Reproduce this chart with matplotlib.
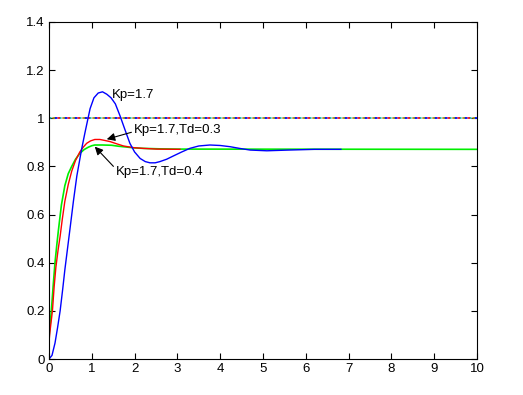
import matplotlib
matplotlib.use("Agg")
import matplotlib.pyplot as plt
import numpy as np

plt.rcParams['font.family'] = ['Liberation Sans', 'DejaVu Sans']

# Kp=1.7 (blue)
t_blue = [0, 0.07, 0.14, 0.20, 0.26, 0.32, 0.37, 0.43, 0.49, 0.57, 0.65, 0.76, 0.84, 0.96, 1.05,
          1.15, 1.25, 1.35, 1.45, 1.55, 1.66, 1.78, 1.89, 2.0, 2.13, 2.25, 2.36, 2.48, 2.59, 2.75,
          2.9, 3.1, 3.29, 3.5, 3.76, 4.0, 4.23, 4.45, 4.7, 5.09, 5.6, 6.2, 6.82]
y_blue = [0, 0.015, 0.066, 0.13, 0.20, 0.29, 0.37, 0.455, 0.54, 0.655, 0.76, 0.87, 0.94, 1.04, 1.085,
          1.105, 1.11, 1.10, 1.085, 1.06, 1.01, 0.95, 0.896, 0.86, 0.833, 0.82, 0.815, 0.815, 0.82, 0.83,
          0.843, 0.86, 0.875, 0.885, 0.889, 0.887, 0.882, 0.875, 0.868, 0.865, 0.868, 0.871, 0.871]
# Kp=1.7, Td=0.3 (red)
t_red = [0, 0.02, 0.08, 0.12, 0.16, 0.21, 0.26, 0.31, 0.37, 0.45, 0.53, 0.62, 0.72, 0.80, 0.88,
         0.97, 1.07, 1.19, 1.30, 1.43, 1.58, 1.74, 1.97, 2.2, 2.52, 3.06]
y_red = [0.07, 0.11, 0.20, 0.30, 0.38, 0.45, 0.51, 0.58, 0.655, 0.725, 0.78, 0.825, 0.86, 0.88, 0.896,
         0.906, 0.912, 0.912, 0.908, 0.903, 0.894, 0.885, 0.878, 0.875, 0.872, 0.871]
# Kp=1.7, Td=0.4 (green)
t_green = [0, 0, 0.03, 0.063, 0.10, 0.14, 0.18, 0.22, 0.29, 0.37, 0.45, 0.53, 0.62, 0.72, 0.82,
           0.92, 1.0, 1.07, 1.25, 1.46, 1.62, 1.78, 2.0, 2.2, 2.6, 3.0, 10.0]
y_green = [0, 0.09, 0.15, 0.22, 0.31, 0.40, 0.47, 0.535, 0.64, 0.72, 0.77, 0.80, 0.83, 0.854, 0.87,
           0.88, 0.886, 0.889, 0.889, 0.888, 0.884, 0.881, 0.877, 0.875, 0.873, 0.872, 0.871]
# reference step
t_ref = [0, 10]
y_ref = [1, 1]

labels = ["Kp=1.7", "Kp=1.7,Td=0.3", "Kp=1.7,Td=0.4"]

fig = plt.figure(figsize=(5.23, 3.95), dpi=100)
ax = fig.add_axes([49/523, 1-359/395, (477-49)/523, (359-22)/395])

# reference line drawn as overlapping coloured dashes
ax.plot(t_ref, y_ref, color='#00aaaa', lw=1.2, ls=(0, (1.5, 1.5)))
ax.plot(t_ref, y_ref, color='red', lw=1.2, ls=(1, (1.5, 4.5)))
ax.plot(t_ref, y_ref, color='blue', lw=1.2, ls=(2.5, (1.5, 4.5)))
ax.plot(t_ref, y_ref, color='#aa8800', lw=1.2, ls=(4, (1.5, 4.5)))

ax.plot(t_green, y_green, color='#00ee00', lw=1.2)
ax.plot(t_red, y_red, color='red', lw=1.0)
ax.plot(t_blue, y_blue, color='blue', lw=1.0)

ax.set_xlim(0, 10)
ax.set_ylim(0, 1.4)
ax.set_xticks(np.arange(0, 11, 1))
ax.set_yticks(np.arange(0, 1.41, 0.2))
ax.set_xticklabels([str(i) for i in range(11)])
ax.set_yticklabels(['0', '0.2', '0.4', '0.6', '0.8', '1', '1.2', '1.4'])
ax.tick_params(direction='in', top=True, right=True, length=4, width=0.8, labelsize=9.5, pad=3)
for s in ax.spines.values():
    s.set_linewidth(0.8)

fs = 9.5
ax.text(1.47, 1.097, labels[0], fontsize=fs, va='center', ha='left')
ax.annotate(labels[1], xy=(1.35, 0.913), xytext=(1.99, 0.95), fontsize=fs, va='center', ha='left',
            arrowprops=dict(arrowstyle='-|>', color='k', lw=0.8, mutation_scale=12,
                            shrinkA=0, shrinkB=0, relpos=(0, 0.4)))
ax.annotate(labels[2], xy=(1.07, 0.882), xytext=(1.57, 0.778), fontsize=fs, va='center', ha='left',
            arrowprops=dict(arrowstyle='-|>', color='k', lw=0.8, mutation_scale=12,
                            shrinkA=0, shrinkB=0, relpos=(0, 0.7)))

fig.savefig('out.png', dpi=100)
